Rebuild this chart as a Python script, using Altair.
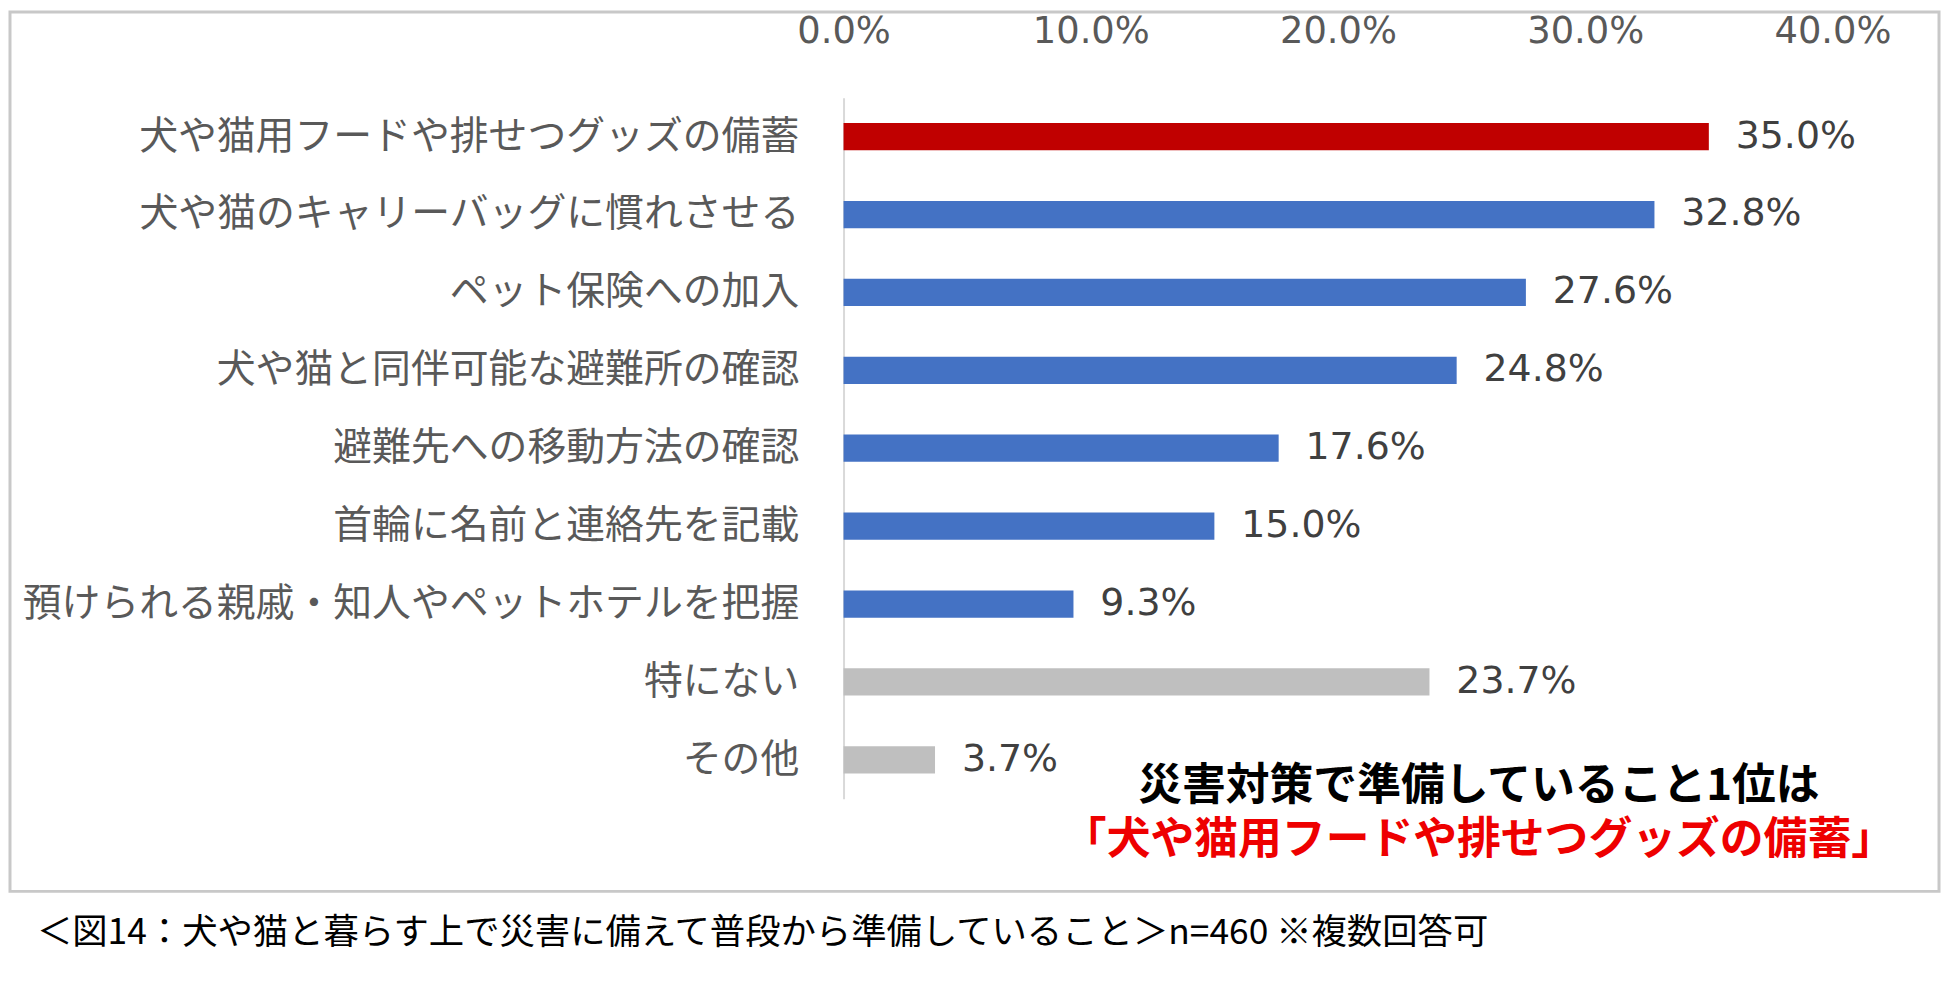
import altair as alt
import pandas as pd

categories = [
    "犬や猫用フードや排せつグッズの備蓄",
    "犬や猫のキャリーバッグに慣れさせる",
    "ペット保険への加入",
    "犬や猫と同伴可能な避難所の確認",
    "避難先への移動方法の確認",
    "首輪に名前と連絡先を記載",
    "預けられる親戚・知人やペットホテルを把握",
    "特にない",
    "その他",
]
values = [0.350, 0.328, 0.276, 0.248, 0.176, 0.150, 0.093, 0.237, 0.037]
groups = ["top", "item", "item", "item", "item", "item", "item", "other", "other"]
x_ticks = [0.0, 0.1, 0.2, 0.3, 0.4]

note_line1 = "災害対策で準備していること1位は"
note_line2 = "「犬や猫用フードや排せつグッズの備蓄」"
footer = "＜図14：犬や猫と暮らす上で災害に備えて普段から準備していること＞n=460 ※複数回答可"

df = pd.DataFrame({"cat": categories, "val": values, "grp": groups})

FONT = "Noto Sans CJK JP"
NUMFONT = "DejaVu Sans"
W, H = 993, 704

y_enc = alt.Y("cat:N", sort=categories, title=None,
              scale=alt.Scale(paddingInner=0.65, paddingOuter=0.325),
              axis=alt.Axis(labelFontSize=39, labelColor="#595959", labelFont=FONT,
                            labelPadding=45, labelLimit=1000, ticks=False,
                            domainColor="#d9d9d9", domainWidth=2, grid=False))

x_enc = alt.X("val:Q", title=None,
              scale=alt.Scale(domain=[0, 0.4], nice=False),
              axis=alt.Axis(orient="top", format=".1%", values=x_ticks,
                            labelFontSize=37, labelColor="#595959", labelFont=NUMFONT,
                            labelPadding=47, ticks=False, domain=False, grid=False,
                            labelFlush=False))

bars = alt.Chart(df).mark_bar().encode(
    x=x_enc,
    y=y_enc,
    color=alt.Color("grp:N", legend=None,
                    scale=alt.Scale(domain=["top", "item", "other"],
                                    range=["#C00000", "#4472C4", "#BFBFBF"])),
)

labels = alt.Chart(df).mark_text(align="left", baseline="middle", dx=27,
                                 fontSize=38, font=NUMFONT, color="#404040").encode(
    x="val:Q",
    y=alt.Y("cat:N", sort=categories),
    text=alt.Text("val:Q", format=".1%"),
)

frame = alt.Chart(pd.DataFrame({"a": [0]})).mark_rect(
    fill="transparent", stroke="#c8c8c8", strokeWidth=3).encode(
    x=alt.value(-837), x2=alt.value(1100), y=alt.value(-86), y2=alt.value(797))

note1 = alt.Chart(pd.DataFrame({"t": [note_line1]})).mark_text(
    align="center", baseline="middle", fontSize=44, fontWeight="bold",
    font=FONT, color="#000000").encode(
    x=alt.value(638), y=alt.value(692), text="t:N")

note2 = alt.Chart(pd.DataFrame({"t": [note_line2]})).mark_text(
    align="center", baseline="middle", fontSize=44, fontWeight="bold",
    font=FONT, color="#EE0000").encode(
    x=alt.value(638), y=alt.value(746), text="t:N")

foot = alt.Chart(pd.DataFrame({"t": [footer]})).mark_text(
    align="left", baseline="middle", fontSize=35.5,
    font=FONT, color="#000000").encode(
    x=alt.value(-810), y=alt.value(839), text="t:N")

chart = alt.layer(frame, bars, labels, note1, note2, foot).properties(
    width=W, height=H,
    autosize=alt.AutoSizeParams(type="none"),
    padding={"left": 839, "top": 88, "right": 110, "bottom": 190},
    background="white",
).configure_view(strokeWidth=0)

chart.save("out.html", embed_options={"renderer": "svg", "actions": False})
